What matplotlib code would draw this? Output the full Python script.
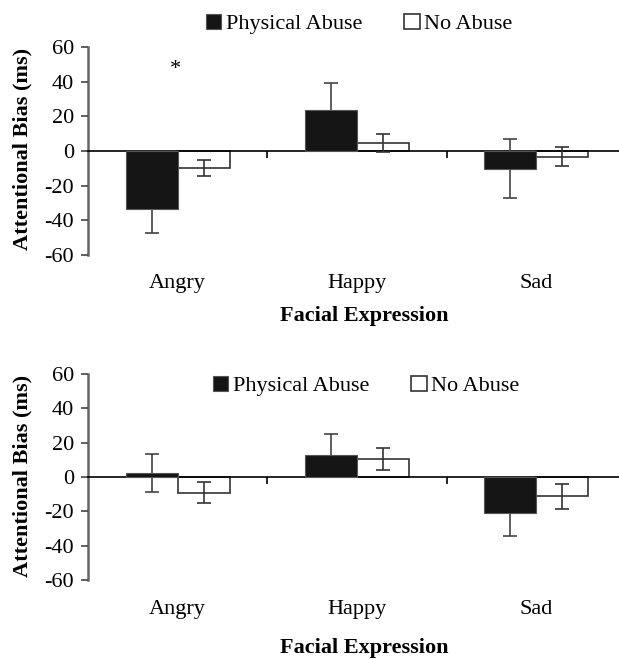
import numpy as np
from matplotlib import pyplot as plt
from matplotlib import transforms

plt.rcParams['font.family'] = ['Liberation Serif', 'DejaVu Serif']

categories = ['Angry', 'Happy', 'Sad']
series_names = ['Physical Abuse', 'No Abuse']

# first study
top_abuse = [-33.5, 23.4, -10.1]
top_abuse_err = [14.0, 16.1, 17.0]
top_none = [-9.7, 4.7, -3.3]
top_none_err = [4.5, 5.0, 5.6]

# second study
bottom_abuse = [2.5, 12.8, -21.2]
bottom_abuse_err = [11.0, 12.0, 13.4]
bottom_none = [-9.1, 10.5, -11.3]
bottom_none_err = [6.2, 6.3, 7.3]

y_ticks = [-60, -40, -20, 0, 20, 40, 60]
FS = 16


def draw_panel(ax, abuse, abuse_err, none, none_err, label_y, xlabel_y):
    x = np.arange(len(categories))
    width = 0.29

    b1 = ax.bar(x - width/2, abuse, width, color='#151515', edgecolor='#555555',
                linewidth=0.8, zorder=4, label=series_names[0])
    ax.errorbar(x - width/2, abuse, yerr=abuse_err, fmt='none', ecolor='#444444',
                elinewidth=1.2, capsize=5, capthick=1.2, zorder=3)
    b2 = ax.bar(x + width/2, none, width, color='white', edgecolor='#333333',
                linewidth=1.2, zorder=2, label=series_names[1])
    ax.errorbar(x + width/2, none, yerr=none_err, fmt='none', ecolor='#333333',
                elinewidth=1.2, capsize=5, capthick=1.2, zorder=3)

    ax.set_xlim(-0.5, 2.461)
    ax.set_ylim(-60, 60)
    ax.set_yticks(y_ticks)
    ax.set_yticklabels([str(t) for t in y_ticks], fontsize=FS)

    for side in ['top', 'right']:
        ax.spines[side].set_visible(False)
    ax.spines['bottom'].set_position(('data', 0))
    ax.spines['bottom'].set_color('black')
    ax.spines['bottom'].set_linewidth(1.2)
    ax.spines['left'].set_color('#666666')
    ax.spines['left'].set_linewidth(1.8)
    ax.spines['left'].set_zorder(1)

    ax.set_xticks([0.5, 1.5])
    ax.set_xticklabels([])
    ax.tick_params(axis='x', direction='out', length=5, width=1.2, color='black')
    ax.tick_params(axis='y', direction='out', length=5, width=1.2, color='#444444', pad=5)

    trans = transforms.blended_transform_factory(ax.transData, ax.transAxes)
    for i, name in enumerate(categories):
        ax.text(i, label_y, name, transform=trans, ha='center', va='center', fontsize=FS)

    ax.set_xlabel('Facial Expression', fontsize=FS, fontweight='bold')
    ax.xaxis.set_label_coords(0.5207, xlabel_y)
    ax.xaxis.label.set_va('center')
    ax.set_ylabel('Attentional Bias (ms)', fontsize=FS, fontweight='bold')
    ax.yaxis.label.set_va('center')

    return b1, b2


fig = plt.figure(figsize=(6.19, 6.59), dpi=100)
ax_top = fig.add_axes([0.142, 0.613, 0.858, 0.3156])
ax_bottom = fig.add_axes([0.142, 0.1199, 0.858, 0.3126])

handles = draw_panel(ax_top, top_abuse, top_abuse_err, top_none, top_none_err, -0.135, -0.293)
ax_top.yaxis.set_label_coords(-0.124, 0.51)
ax_top.text(-0.01, 47, '*', ha='center', va='center', fontsize=FS)

draw_panel(ax_bottom, bottom_abuse, bottom_abuse_err, bottom_none, bottom_none_err, -0.141, -0.33)
ax_bottom.yaxis.set_label_coords(-0.124, 0.505)

legend_kw = dict(ncol=2, frameon=False, fontsize=FS, handlelength=0.7, handleheight=0.7,
                 handletextpad=0.2, columnspacing=1.9, loc='center', borderaxespad=0)
fig.legend(handles, series_names, bbox_to_anchor=(359/619, 1 - 24/659), **legend_kw)
fig.legend(handles, series_names, bbox_to_anchor=(366/619, 1 - 386/659), **legend_kw)

fig.savefig('out.png', dpi=100)
